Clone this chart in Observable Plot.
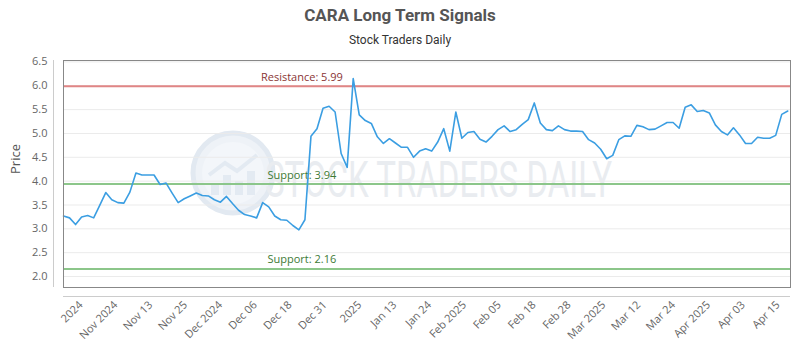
<!DOCTYPE html>
<html><head><meta charset="utf-8">
<script src="https://cdn.jsdelivr.net/npm/d3@7"></script>
<script src="https://cdn.jsdelivr.net/npm/@observablehq/plot@0.6"></script>
<style>
body{margin:0;background:#fff;}
#chart{width:800px;height:350px;}
#chart svg{font-family:"Open Sans",sans-serif;}
</style></head><body><div id="chart"></div>
<script>
const titleText = "CARA Long Term Signals";
const subtitleText = "Stock Traders Daily";
const watermarkText = "STOCK TRADERS DAILY";

const prices = [
  3.27, 3.23, 3.09, 3.25, 3.28, 3.23, 3.49, 3.76, 3.61, 3.55,
  3.54, 3.77, 4.17, 4.13, 4.13, 4.13, 3.93, 3.96, 3.75, 3.55,
  3.63, 3.69, 3.75, 3.70, 3.69, 3.61, 3.56, 3.68, 3.53, 3.39,
  3.30, 3.27, 3.23, 3.55, 3.46, 3.27, 3.19, 3.18, 3.07, 2.98,
  3.19, 4.94, 5.10, 5.53, 5.57, 5.45, 4.58, 4.29, 6.15, 5.39,
  5.27, 5.21, 4.93, 4.79, 4.89, 4.80, 4.71, 4.71, 4.50, 4.63,
  4.68, 4.63, 4.82, 5.10, 4.63, 5.45, 4.90, 5.02, 5.04, 4.88,
  4.82, 4.94, 5.08, 5.16, 5.04, 5.08, 5.19, 5.29, 5.64, 5.22,
  5.08, 5.06, 5.16, 5.08, 5.05, 5.05, 5.04, 4.87, 4.80, 4.67,
  4.47, 4.54, 4.87, 4.95, 4.94, 5.17, 5.14, 5.08, 5.09, 5.16,
  5.23, 5.23, 5.11, 5.55, 5.60, 5.46, 5.48, 5.43, 5.18, 5.04,
  4.97, 5.12, 4.97, 4.79, 4.79, 4.92, 4.90, 4.90, 4.96, 5.40,
  5.47
];

const xTickLabels = ["2024", "Nov 2024", "Nov 13", "Nov 25", "Dec 2024", "Dec 06", "Dec 18",
  "Dec 31", "2025", "Jan 13", "Jan 24", "Feb 2025", "Feb 05", "Feb 18", "Feb 28",
  "Mar 2025", "Mar 12", "Mar 24", "Apr 2025", "Apr 03", "Apr 15"];
const firstTickIndex = 3.3;
const lastTickIndex = 118.8;

const yTicks = [2.0, 2.5, 3.0, 3.5, 4.0, 4.5, 5.0, 5.5, 6.0, 6.5];

const resistanceValues = [5.99];
const resistanceLabels = ["Resistance: 5.99"];
const supportValues = [3.94, 2.16];
const supportLabels = ["Support: 3.94", "Support: 2.16"];
const levelLabelIndex = 39.5;

const tickStep = (lastTickIndex - firstTickIndex) / (xTickLabels.length - 1);
const xTicks = xTickLabels.map((label, i) => ({pos: firstTickIndex + i * tickStep, label}));
const series = prices.map((v, i) => ({i, v}));
const resistance = resistanceValues.map((v, i) => ({v, label: resistanceLabels[i]}));
const support = supportValues.map((v, i) => ({v, label: supportLabels[i]}));

const chart = Plot.plot({
  width: 800,
  height: 350,
  marginTop: 60,
  marginBottom: 63,
  marginLeft: 63,
  marginRight: 10,
  x: {domain: [0, prices.length - 1 + 0.45], axis: null, label: null},
  y: {domain: [1.77, 6.53], axis: null, label: null},
  marks: [
    Plot.gridY(yTicks, {stroke: "#ebebeb", strokeOpacity: 1}),
    Plot.ruleY(resistance, {y: "v", stroke: "#e08585", strokeWidth: 2}),
    Plot.ruleY(support, {y: "v", stroke: "#8cc68a", strokeWidth: 2}),
    Plot.text(resistance, {x: () => levelLabelIndex, y: "v", text: "label", dy: -9, fill: "#8a3535", fontSize: 11}),
    Plot.text(support, {x: () => levelLabelIndex, y: "v", text: "label", dy: -9, fill: "#3d7a35", fontSize: 11}),
    Plot.line(series, {x: "i", y: "v", stroke: "#3b9ee2", strokeWidth: 1.6}),
    Plot.frame({stroke: "#888"}),
    Plot.ruleX([0], {dx: -10, stroke: "#ccc"}),
    Plot.ruleY([1.77], {dy: 9, stroke: "#ccc"}),
    Plot.axisY(yTicks, {tickSize: 0, tickPadding: 16, tickFormat: d3.format(".1f"), fontSize: 11, fill: "#666", label: null}),
    Plot.text(xTicks, {x: "pos", text: "label", frameAnchor: "bottom", dy: 18, rotate: -45, textAnchor: "end", fontSize: 11, fill: "#666"}),
    Plot.text(["Price"], {frameAnchor: "left", dx: -48, rotate: -90, fontSize: 13, fill: "#555"})
  ]
});

document.getElementById("chart").appendChild(chart);
const svg = d3.select(chart);

// watermark behind the data
const wm = svg.insert("g", ":first-child");
const cx = 233, cy = 173;
wm.append("circle").attr("cx", cx).attr("cy", cy).attr("r", 40).attr("fill", "#eef2f7").attr("stroke", "#e2e9f1").attr("stroke-width", 5);
wm.append("circle").attr("cx", cx).attr("cy", cy).attr("r", 31).attr("fill", "#f3f6fa");
[[-18, 12], [-6, 20], [6, 14], [18, 24]].forEach(([dx, h]) => {
  wm.append("rect").attr("x", cx + dx - 4).attr("y", cy + 22 - h).attr("width", 8).attr("height", h).attr("fill", "#e3eaf2");
});
wm.append("polyline").attr("points", `${cx-24},${cy+2} ${cx-8},${cy-10} ${cx+4},${cy-2} ${cx+24},${cy-18}`)
  .attr("fill", "none").attr("stroke", "#e3eaf2").attr("stroke-width", 4);
wm.append("text").attr("x", 265).attr("y", 197).attr("text-anchor", "start").text(watermarkText)
  .attr("textLength", 347).attr("lengthAdjust", "spacingAndGlyphs")
  .attr("font-family", "Roboto, DejaVu Sans, sans-serif").attr("font-size", 50)
  .attr("fill", "#e9ecf0");

// title & subtitle
svg.append("text").attr("x", 400).attr("y", 21).attr("text-anchor", "middle")
  .attr("font-family", "Roboto, sans-serif").attr("font-weight", "bold")
  .attr("font-size", 17).attr("fill", "#555").text(titleText);
svg.append("text").attr("x", 400).attr("y", 44).attr("text-anchor", "middle")
  .attr("font-family", "Roboto, sans-serif")
  .attr("font-size", 12).attr("fill", "#333").text(subtitleText);
</script>
</body></html>
